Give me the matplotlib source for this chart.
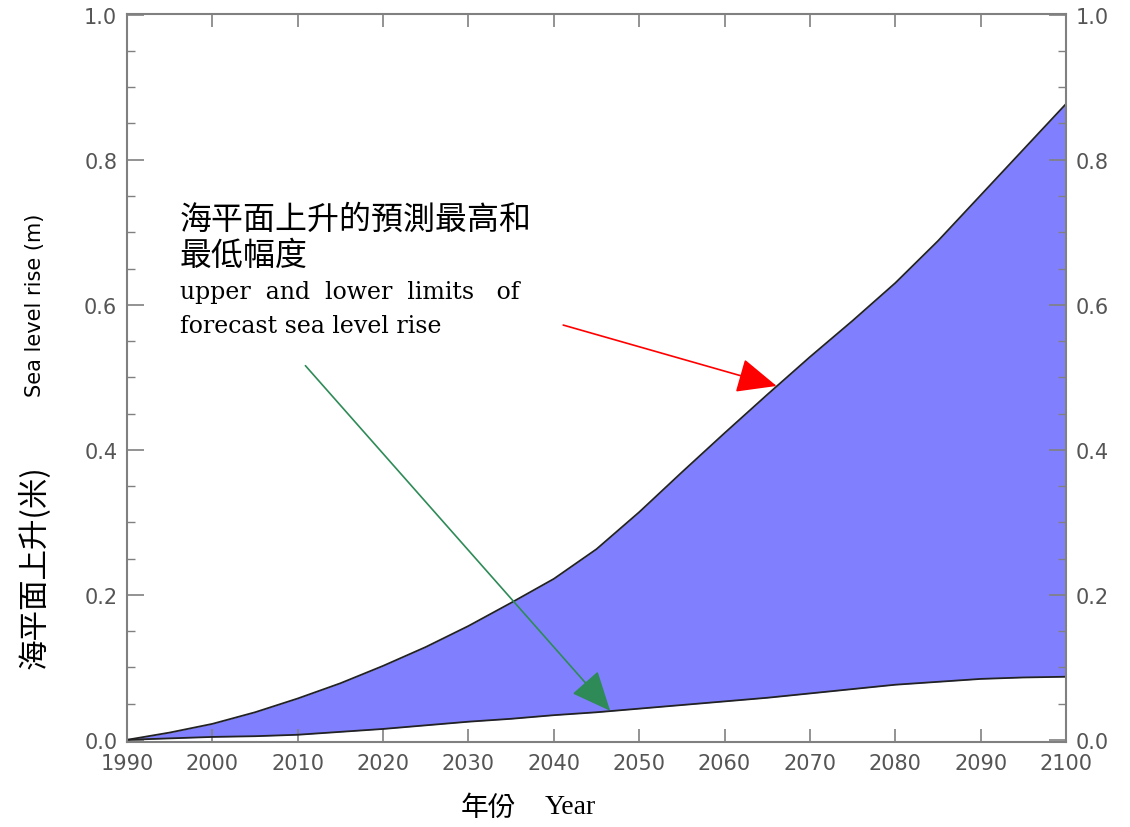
import matplotlib
matplotlib.use("Agg")
import matplotlib.pyplot as plt
from matplotlib.ticker import MultipleLocator

# ---- data ----
years = [1990, 1995, 2000, 2005, 2010, 2015, 2020, 2025, 2030, 2035, 2040, 2045,
         2050, 2055, 2060, 2065, 2070, 2075, 2080, 2085, 2090, 2095, 2100]
upper = [0.000, 0.010, 0.022, 0.038, 0.057, 0.078, 0.102, 0.128, 0.157, 0.189,
         0.222, 0.263, 0.314, 0.369, 0.423, 0.476, 0.528, 0.578, 0.630, 0.688,
         0.751, 0.814, 0.877]
lower = [0.000, 0.002, 0.004, 0.005, 0.007, 0.011, 0.015, 0.020, 0.025, 0.029,
         0.034, 0.038, 0.043, 0.048, 0.053, 0.058, 0.064, 0.070, 0.076, 0.080,
         0.084, 0.086, 0.087]
x_ticks = list(range(1990, 2101, 10))
y_ticks = [0.0, 0.2, 0.4, 0.6, 0.8, 1.0]

annot_cn1 = "海平面上升的預測最高和"
annot_cn2 = "最低幅度"
annot_en1 = "upper  and  lower  limits   of"
annot_en2 = "forecast sea level rise"
ylabel_en = "Sea level rise (m)"
ylabel_cn = "海平面上升(米)"
xlabel_cn = "年份"
xlabel_en = "Year"

CJK = ['Noto Sans CJK TC', 'DejaVu Sans']
SERIF = ['DejaVu Serif', 'Liberation Serif']

fig = plt.figure(figsize=(11.3, 8.28), dpi=100)
ax = fig.add_axes([127 / 1130, 85 / 828, (1066 - 127) / 1130, (743 - 15) / 828])

ax.fill_between(years, lower, upper, color='#8080ff', linewidth=0)
ax.plot(years, upper, color='#222222', lw=1.3)
ax.plot(years, lower, color='#222222', lw=1.3)

ax.set_xlim(1990, 2100)
ax.set_ylim(-0.003, 1.001)
ax.set_xticks(x_ticks)
ax.set_yticks(y_ticks)
ax.set_yticklabels([f"{v:.1f}" for v in y_ticks])
ax.yaxis.set_minor_locator(MultipleLocator(0.05))

for s in ax.spines.values():
    s.set_color('#808080')
    s.set_linewidth(1.5)

ax.tick_params(axis='x', which='major', direction='in', length=9.5, width=1.2,
               color='#808080', top=True, bottom=True, labelsize=15,
               labelcolor='#555555', pad=8)
ax.tick_params(axis='y', which='major', direction='in', length=12.5, width=1.2,
               color='#808080', left=True, right=True, labelleft=True,
               labelright=True, labelsize=15, labelcolor='#555555', pad=7)
ax.tick_params(axis='y', which='minor', direction='in', length=6, width=1.0,
               color='#808080', left=True, right=True)
for lab in ax.get_yticklabels() + ax.get_xticklabels():
    lab.set_family('DejaVu Sans')

# annotation text (figure pixel positions converted to fractions)
def fpos(px, py):
    return px / 1130, 1 - py / 828

fig.text(*fpos(180, 220), annot_cn1, family=CJK, fontsize=23, va='center',
         ha='left', color='black')
fig.text(*fpos(180, 256), annot_cn2, family=CJK, fontsize=23, va='center',
         ha='left', color='black')
fig.text(*fpos(180, 292), annot_en1, family=SERIF, fontsize=17, va='center',
         ha='left', color='black')
fig.text(*fpos(180, 327), annot_en2, family=SERIF, fontsize=17, va='center',
         ha='left', color='black')

# arrows
ax.annotate("", xy=(2066.1, 0.488), xytext=(2041.1, 0.572),
            arrowprops=dict(arrowstyle='-|>,head_length=1.25,head_width=0.55',
                            mutation_scale=20, color='#ff0000', lw=1.2,
                            shrinkA=0, shrinkB=0))
ax.annotate("", xy=(2046.6, 0.040), xytext=(2010.9, 0.516),
            arrowprops=dict(arrowstyle='-|>,head_length=1.25,head_width=0.55',
                            mutation_scale=20, color='#2e8b57', lw=1.2,
                            shrinkA=0, shrinkB=0))

# y labels
fig.text(*fpos(35, 305), ylabel_en, rotation=90, family='DejaVu Sans',
         fontsize=15, ha='center', va='center', color='black')
fig.text(*fpos(35, 567), ylabel_cn, rotation=90, family=CJK,
         fontsize=22, ha='center', va='center', color='black')

# x label
fig.text(*fpos(488, 808), xlabel_cn, family=CJK, fontsize=20,
         ha='center', va='center', color='black')
fig.text(*fpos(570, 808), xlabel_en, family=['Liberation Serif'], fontsize=20,
         ha='center', va='center', color='black')

fig.savefig("out.png", dpi=100)
